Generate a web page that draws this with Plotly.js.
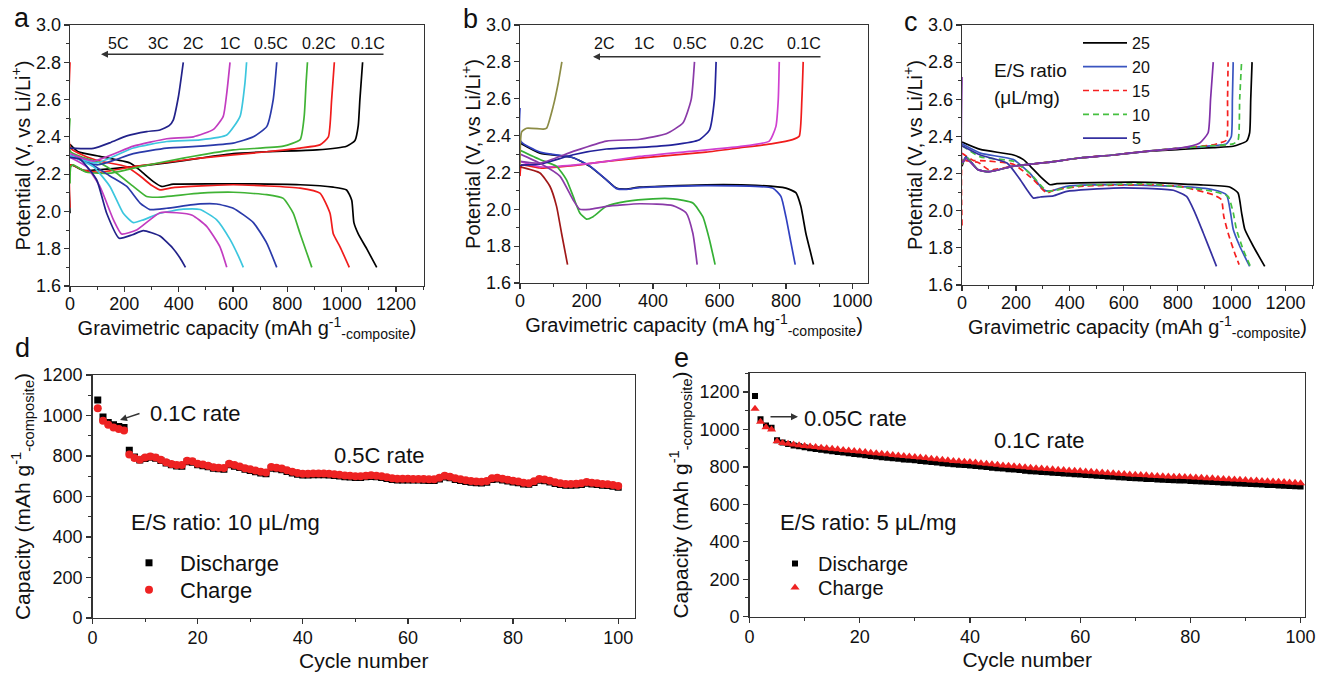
<!DOCTYPE html>
<html>
<head>
<meta charset="utf-8">
<script src="https://cdn.plot.ly/plotly-3.0.1.min.js"></script>
<style>html,body{margin:0;padding:0;background:#fff;}#chart{width:1317px;height:674px;}</style>
</head>
<body>
<div id="chart"></div>
<script>
// ---------------- Panel a : rate capability (mAh g-1 composite) ----------------
const aRateLabels = ['5C', '3C', '2C', '1C', '0.5C', '0.2C', '0.1C'];
// discharge curves
const a01D_x = [0, 30, 110, 221, 258, 307, 337, 380, 601, 847, 969, 1018, 1037, 1045, 1061, 1092, 1129];
const a01D_y = [2.36, 2.32, 2.295, 2.26, 2.22, 2.16, 2.134, 2.146, 2.148, 2.143, 2.13, 2.115, 2.06, 1.94, 1.88, 1.80, 1.70];
const a02D_x = [0, 2, 50, 110, 209, 258, 300, 331, 380, 601, 847, 920, 957, 969, 994, 1028];
const a02D_y = [2.80, 2.34, 2.30, 2.27, 2.24, 2.19, 2.14, 2.116, 2.128, 2.143, 2.125, 2.098, 1.99, 1.88, 1.81, 1.70];
const a05D_x = [0, 2, 110, 172, 233, 282, 319, 479, 601, 724, 785, 822, 847, 871, 890];
const a05D_y = [2.50, 2.32, 2.26, 2.205, 2.134, 2.08, 2.076, 2.098, 2.103, 2.09, 2.07, 1.99, 1.88, 1.78, 1.70];
const a1D_x = [0, 49, 147, 209, 258, 294, 356, 479, 540, 601, 675, 724, 761];
const a1D_y = [2.30, 2.28, 2.19, 2.134, 2.045, 2.01, 2.017, 2.04, 2.04, 2.017, 1.94, 1.83, 1.70];
const a2D_x = [0, 86, 147, 196, 233, 270, 331, 417, 479, 540, 589, 620, 638];
const a2D_y = [2.30, 2.24, 2.134, 1.99, 1.94, 1.955, 1.99, 2.012, 2.01, 1.955, 1.85, 1.76, 1.70];
const a3D_x = [0, 61, 110, 160, 190, 245, 331, 393, 450, 503, 552, 577];
const a3D_y = [2.29, 2.24, 2.134, 1.955, 1.879, 1.90, 1.993, 1.993, 1.98, 1.92, 1.81, 1.70];
const a5D_x = [0, 37, 98, 135, 181, 230, 270, 331, 380, 405, 425];
const a5D_y = [2.29, 2.28, 2.17, 1.99, 1.856, 1.875, 1.897, 1.868, 1.80, 1.75, 1.70];
// charge curves
const a01C_x = [0, 2, 49, 233, 356, 479, 601, 724, 908, 1018, 1049, 1061, 1067, 1077];
const a01C_y = [1.99, 2.25, 2.22, 2.24, 2.26, 2.286, 2.31, 2.32, 2.33, 2.35, 2.38, 2.46, 2.60, 2.80];
const a02C_x = [0, 3, 49, 110, 233, 479, 724, 847, 920, 951, 963, 973];
const a02C_y = [2.02, 2.25, 2.22, 2.21, 2.24, 2.286, 2.32, 2.34, 2.357, 2.40, 2.60, 2.80];
const a05C_x = [0, 3, 12, 61, 147, 258, 417, 601, 785, 847, 862, 869, 874];
const a05C_y = [2.15, 2.24, 2.25, 2.21, 2.205, 2.24, 2.286, 2.33, 2.35, 2.385, 2.51, 2.69, 2.80];
const a1C_x = [0, 100, 233, 356, 479, 601, 675, 724, 748, 761];
const a1C_y = [2.30, 2.25, 2.31, 2.34, 2.35, 2.366, 2.40, 2.455, 2.60, 2.80];
const a2C_x = [0, 98, 233, 356, 479, 577, 626, 644, 650];
const a2C_y = [2.30, 2.26, 2.34, 2.375, 2.384, 2.41, 2.51, 2.69, 2.80];
const a3C_x = [0, 86, 233, 356, 454, 528, 564, 577, 589];
const a3C_y = [2.31, 2.27, 2.35, 2.39, 2.40, 2.44, 2.51, 2.635, 2.80];
const a5C_x = [0, 86, 150, 209, 282, 331, 365, 380, 399, 417];
const a5C_y = [2.34, 2.338, 2.37, 2.405, 2.428, 2.437, 2.46, 2.49, 2.615, 2.80];

// ---------------- Panel b ----------------
const bRateLabels = ['2C', '1C', '0.5C', '0.2C', '0.1C'];
const b01D_x = [0, 60, 160, 210, 260, 290, 320, 360, 560, 710, 800, 830, 845, 860, 875, 883];
const b01D_y = [2.36, 2.305, 2.28, 2.233, 2.16, 2.115, 2.11, 2.12, 2.133, 2.13, 2.115, 2.09, 2.016, 1.87, 1.76, 1.70];
const b02D_x = [0, 2, 60, 160, 210, 260, 290, 320, 360, 560, 760, 785, 800, 815, 828];
const b02D_y = [2.55, 2.37, 2.31, 2.28, 2.235, 2.16, 2.112, 2.108, 2.118, 2.128, 2.115, 2.07, 1.96, 1.82, 1.70];
const b05D_x = [0, 60, 110, 140, 160, 180, 200, 220, 260, 320, 400, 460, 520, 550, 570, 587];
const b05D_y = [2.32, 2.27, 2.233, 2.16, 2.07, 1.98, 1.947, 1.96, 2.016, 2.043, 2.057, 2.057, 2.034, 1.96, 1.835, 1.70];
const b1D_x = [0, 60, 120, 160, 180, 210, 260, 360, 460, 500, 520, 533];
const b1D_y = [2.30, 2.25, 2.18, 2.05, 2.0, 2.0, 2.016, 2.03, 2.02, 1.98, 1.87, 1.70];
const b2D_x = [0, 60, 90, 110, 125, 143];
const b2D_y = [2.23, 2.197, 2.125, 2.016, 1.87, 1.70];
const b01C_x = [0, 5, 60, 160, 260, 360, 560, 660, 760, 820, 840, 848, 852];
const b01C_y = [2.18, 2.24, 2.224, 2.237, 2.26, 2.278, 2.31, 2.333, 2.356, 2.378, 2.396, 2.595, 2.80];
const b02C_x = [0, 60, 160, 260, 360, 510, 660, 750, 770, 777, 780];
const b02C_y = [2.26, 2.23, 2.24, 2.26, 2.287, 2.314, 2.34, 2.37, 2.45, 2.595, 2.80];
const b05C_x = [0, 60, 160, 260, 360, 460, 540, 570, 585, 590];
const b05C_y = [2.24, 2.245, 2.296, 2.327, 2.336, 2.35, 2.378, 2.43, 2.595, 2.80];
const b1C_x = [0, 60, 160, 260, 360, 440, 490, 515, 525];
const b1C_y = [2.26, 2.25, 2.314, 2.37, 2.38, 2.41, 2.468, 2.595, 2.80];
const b2C_x = [0, 5, 20, 70, 80, 100, 115, 126];
const b2C_y = [2.24, 2.42, 2.44, 2.435, 2.44, 2.56, 2.685, 2.80];

// ---------------- Panel c : E/S ratio ----------------
const cRatios = ['25', '20', '15', '10', '5'];
const c25D_x = [0, 68, 191, 228, 253, 290, 327, 352, 438, 685, 870, 993, 1024, 1037, 1049, 1080, 1123];
const c25D_y = [2.37, 2.33, 2.30, 2.275, 2.24, 2.185, 2.14, 2.146, 2.15, 2.153, 2.14, 2.128, 2.095, 1.99, 1.90, 1.81, 1.70];
const c20D_x = [0, 68, 191, 253, 302, 327, 389, 561, 808, 932, 981, 996, 1006, 1030, 1067];
const c20D_y = [2.36, 2.31, 2.275, 2.20, 2.113, 2.105, 2.131, 2.14, 2.131, 2.113, 2.086, 1.99, 1.90, 1.81, 1.70];
const c15D_x = [0, 43, 68, 191, 265, 315, 339, 438, 685, 808, 932, 962, 971, 987, 1012, 1028];
const c15D_y = [2.31, 2.27, 2.27, 2.25, 2.167, 2.095, 2.11, 2.131, 2.14, 2.131, 2.086, 2.06, 1.97, 1.88, 1.77, 1.71];
const c10D_x = [0, 68, 191, 253, 315, 339, 438, 685, 808, 932, 987, 1006, 1018, 1043, 1070];
const c10D_y = [2.35, 2.29, 2.266, 2.20, 2.105, 2.108, 2.135, 2.144, 2.128, 2.104, 2.077, 1.99, 1.90, 1.79, 1.70];
const c5D_x = [0, 68, 167, 216, 241, 265, 290, 339, 389, 561, 685, 784, 833, 864, 895, 925, 944];
const c5D_y = [2.35, 2.30, 2.257, 2.167, 2.113, 2.068, 2.074, 2.08, 2.104, 2.122, 2.12, 2.11, 2.077, 1.99, 1.88, 1.77, 1.70];
const c25C_x = [0, 15, 60, 100, 191, 315, 438, 561, 685, 808, 932, 1006, 1055, 1067, 1071, 1076];
const c25C_y = [2.24, 2.29, 2.22, 2.21, 2.24, 2.26, 2.284, 2.30, 2.32, 2.33, 2.34, 2.347, 2.374, 2.42, 2.60, 2.80];
const c20C_x = [0, 15, 60, 100, 191, 315, 438, 561, 685, 808, 932, 981, 999, 1003, 1006];
const c20C_y = [2.25, 2.29, 2.22, 2.21, 2.24, 2.26, 2.284, 2.30, 2.32, 2.337, 2.35, 2.36, 2.40, 2.60, 2.80];
const c15C_x = [0, 2, 15, 60, 100, 191, 315, 438, 561, 685, 808, 932, 956, 981, 985, 987];
const c15C_y = [1.92, 2.28, 2.27, 2.26, 2.22, 2.24, 2.26, 2.284, 2.30, 2.32, 2.337, 2.355, 2.365, 2.38, 2.60, 2.80];
const c10C_x = [0, 15, 60, 100, 191, 315, 438, 561, 685, 808, 932, 1006, 1024, 1030, 1037];
const c10C_y = [2.25, 2.29, 2.22, 2.21, 2.24, 2.26, 2.284, 2.30, 2.32, 2.337, 2.35, 2.36, 2.38, 2.60, 2.80];
const c5C_x = [0, 2, 15, 60, 100, 191, 315, 438, 561, 685, 808, 882, 913, 922, 932];
const c5C_y = [2.72, 2.26, 2.28, 2.22, 2.21, 2.24, 2.26, 2.284, 2.30, 2.32, 2.337, 2.365, 2.42, 2.60, 2.80];

// ---------------- Panels d and e : cycling ----------------
const cycles = [1,2,3,4,5,6,7,8,9,10,11,12,13,14,15,16,17,18,19,20,21,22,23,24,25,26,27,28,29,30,31,32,33,34,35,36,37,38,39,40,41,42,43,44,45,46,47,48,49,50,51,52,53,54,55,56,57,58,59,60,61,62,63,64,65,66,67,68,69,70,71,72,73,74,75,76,77,78,79,80,81,82,83,84,85,86,87,88,89,90,91,92,93,94,95,96,97,98,99,100];
const dDischarge = [1077,992,966,954,946,941,828,795,780,788,794,789,778,765,757,751,750,772,769,757,752,747,740,737,735,757,750,743,735,729,722,716,712,740,737,732,724,716,710,706,706,707,708,708,706,704,701,698,696,694,694,697,699,697,694,689,684,682,682,682,681,681,680,679,679,686,696,692,684,679,674,670,668,667,670,684,686,682,677,672,668,662,660,669,680,678,672,664,659,656,656,657,659,666,662,659,656,654,651,646];
const dCharge = [1036,974,954,941,933,926,807,790,782,793,798,793,782,769,761,756,755,777,774,762,758,752,745,742,741,762,755,748,740,735,728,722,718,746,742,738,730,722,716,712,712,713,714,714,712,710,707,704,702,700,700,703,705,703,700,695,690,688,688,688,687,687,686,685,685,692,702,698,690,685,680,676,674,673,676,690,692,688,683,678,674,668,666,675,686,684,678,670,665,662,662,663,665,672,668,665,662,660,657,652];
const eDischarge = [1179,1054,1021,1009,943,930,922,915,910,905,900,896,892,888,884,880,877,873,869,866,862,858,855,852,849,846,843,840,838,835,832,829,826,823,820,817,814,812,810,808,805,802,799,796,793,791,788,786,783,780,777,775,773,771,769,767,765,763,761,760,757,755,753,751,749,747,745,743,741,740,738,736,735,733,731,730,729,728,727,725,724,722,721,719,718,716,715,713,712,710,709,707,706,704,703,701,700,698,697,695];
const eCharge = [1111,1041,1012,1000,937,928,924,920,916,912,909,906,903,900,897,894,891,888,885,882,879,876,873,870,867,864,861,858,856,853,850,847,844,841,838,835,832,830,828,826,823,820,817,814,811,808,806,804,801,798,795,793,791,789,787,785,783,781,779,778,776,774,772,770,768,766,764,762,760,758,757,755,753,752,750,749,748,747,746,745,743,742,740,739,737,736,734,733,731,730,728,727,725,724,722,721,719,717,715,713];

// ---------------- styles ----------------
const F = 'Liberation Sans, Arial, sans-serif';
const W = 1317, H = 674;
const px = v => v / W;
const py = v => 1 - v / H;

function ln(x, y, color, xa, ya, opts) {
  opts = opts || {};
  return {
    type: 'scatter', mode: 'lines', x: x, y: y, xaxis: xa, yaxis: ya,
    line: {color: color, width: 1.7, dash: opts.dash || 'solid', shape: 'spline', smoothing: 0.5},
    name: opts.name || '', showlegend: !!opts.legend, legend: 'legend', hoverinfo: 'skip'
  };
}

const traces = [
  // a
  ln(a01D_x, a01D_y, '#000000', 'x', 'y'), ln(a01C_x, a01C_y, '#000000', 'x', 'y'),
  ln(a02D_x, a02D_y, '#f01c1c', 'x', 'y'), ln(a02C_x, a02C_y, '#f01c1c', 'x', 'y'),
  ln(a05D_x, a05D_y, '#40b335', 'x', 'y'), ln(a05C_x, a05C_y, '#40b335', 'x', 'y'),
  ln(a1D_x, a1D_y, '#2a3aaa', 'x', 'y'), ln(a1C_x, a1C_y, '#2a3aaa', 'x', 'y'),
  ln(a2D_x, a2D_y, '#3cc6de', 'x', 'y'), ln(a2C_x, a2C_y, '#3cc6de', 'x', 'y'),
  ln(a3D_x, a3D_y, '#c23cc0', 'x', 'y'), ln(a3C_x, a3C_y, '#c23cc0', 'x', 'y'),
  ln(a5D_x, a5D_y, '#22228a', 'x', 'y'), ln(a5C_x, a5C_y, '#22228a', 'x', 'y'),
  // b
  ln(b01D_x, b01D_y, '#000000', 'x2', 'y2'), ln(b01C_x, b01C_y, '#f01c1c', 'x2', 'y2'),
  ln(b02D_x, b02D_y, '#3040c0', 'x2', 'y2'), ln(b02C_x, b02C_y, '#d040d0', 'x2', 'y2'),
  ln(b05D_x, b05D_y, '#35b035', 'x2', 'y2'), ln(b05C_x, b05C_y, '#22229a', 'x2', 'y2'),
  ln(b1D_x, b1D_y, '#8a3aa8', 'x2', 'y2'), ln(b1C_x, b1C_y, '#8a3aa8', 'x2', 'y2'),
  ln(b2D_x, b2D_y, '#a01818', 'x2', 'y2'), ln(b2C_x, b2C_y, '#8c8c45', 'x2', 'y2'),
  // c (legend entries)
  ln(c25D_x, c25D_y, '#000000', 'x3', 'y3', {name: cRatios[0], legend: true}),
  ln(c20D_x, c20D_y, '#3a55c0', 'x3', 'y3', {name: cRatios[1], legend: true}),
  ln(c15D_x, c15D_y, '#f52020', 'x3', 'y3', {name: cRatios[2], legend: true, dash: '6px,4px'}),
  ln(c10D_x, c10D_y, '#45c040', 'x3', 'y3', {name: cRatios[3], legend: true, dash: '6px,4px'}),
  ln(c5D_x, c5D_y, '#3530a0', 'x3', 'y3', {name: cRatios[4], legend: true}),
  ln(c25C_x, c25C_y, '#000000', 'x3', 'y3'),
  ln(c20C_x, c20C_y, '#3a55c0', 'x3', 'y3'),
  ln(c15C_x, c15C_y, '#f52020', 'x3', 'y3', {dash: '6px,4px'}),
  ln(c10C_x, c10C_y, '#45c040', 'x3', 'y3', {dash: '6px,4px'}),
  ln(c5C_x, c5C_y, '#8030a8', 'x3', 'y3'),
  // d
  {type: 'scatter', mode: 'markers', x: cycles, y: dDischarge, xaxis: 'x4', yaxis: 'y4', name: 'Discharge',
   marker: {symbol: 'square', size: 7, color: '#000000'}, legend: 'legend2', hoverinfo: 'skip'},
  {type: 'scatter', mode: 'markers', x: cycles, y: dCharge, xaxis: 'x4', yaxis: 'y4', name: 'Charge',
   marker: {symbol: 'circle', size: 8, color: '#ee2222'}, legend: 'legend4', hoverinfo: 'skip'},
  // e
  {type: 'scatter', mode: 'markers', x: cycles, y: eDischarge, xaxis: 'x5', yaxis: 'y5', name: 'Discharge',
   marker: {symbol: 'square', size: 6, color: '#000000'}, legend: 'legend3', hoverinfo: 'skip'},
  {type: 'scatter', mode: 'markers', x: cycles, y: eCharge, xaxis: 'x5', yaxis: 'y5', name: 'Charge',
   marker: {symbol: 'triangle-up', size: 8, color: '#ee2222'}, legend: 'legend5', hoverinfo: 'skip'}
];

function axis(domain, range, dtick, minor, anchor, title, o) {
  o = o || {};
  return {
    domain: domain, range: range, anchor: anchor, dtick: dtick, tick0: 0,
    showline: true, mirror: true, linecolor: '#333', linewidth: 1.3,
    ticks: 'outside', ticklen: 5, tickwidth: 1.2, tickcolor: '#333',
    minor: {dtick: minor, ticks: 'outside', ticklen: 3, tickwidth: 1, tickcolor: '#333', showgrid: false},
    showgrid: false, zeroline: false, fixedrange: true,
    tickformat: o.fmt || '', ticklabelstandoff: (o.tls !== undefined ? o.tls : 0),
    tickfont: {family: F, size: o.tick || 18, color: '#111'},
    title: {text: title, font: {family: F, size: o.tsize || 20, color: '#111'}, standoff: (o.standoff !== undefined ? o.standoff : 6)}
  };
}

const gravA = 'Gravimetric capacity (mAh g<sup>-1</sup><sub>-composite</sub>)';
const gravB = 'Gravimetric capacity (mA hg<sup>-1</sup><sub>-composite</sub>)';
const potT = 'Potential (V, vs Li/Li<sup>+</sup>)';
const capT = 'Capacity (mAh g<sup>-1</sup><sub>-composite</sub>)';

function leg(x, y, size, iw) {
  return {x: px(x), y: py(y), xanchor: 'left', yanchor: 'top', bgcolor: 'rgba(0,0,0,0)',
          font: {family: F, size: size, color: '#111'}, itemwidth: iw, tracegroupgap: 0, borderwidth: 0};
}

const layout = {
  width: W, height: H, margin: {l: 0, r: 0, t: 0, b: 0},
  paper_bgcolor: '#fff', plot_bgcolor: '#fff', font: {family: F, color: '#111'},
  xaxis: axis([px(70), px(424)], [0, 1303], 200, 100, 'y', gravA, {standoff: 3, tls: -4}),
  yaxis: axis([py(286), py(25)], [1.6, 3.0], 0.2, 0.1, 'x', potT, {fmt: '.1f', standoff: 0, tls: -1}),
  xaxis2: axis([px(520), px(868)], [0, 1047], 200, 100, 'y2', gravB, {standoff: 3, tls: -4}),
  yaxis2: axis([py(283), py(25)], [1.6, 3.0], 0.2, 0.1, 'x2', potT, {fmt: '.1f', standoff: 0, tls: -1}),
  xaxis3: axis([px(962), px(1313)], [0, 1302], 200, 100, 'y3', gravA, {standoff: 2, tls: -4}),
  yaxis3: axis([py(285), py(25)], [1.6, 3.0], 0.2, 0.1, 'x3', potT, {fmt: '.1f', standoff: 0, tls: -1}),
  xaxis4: axis([px(92.5), px(635)], [0, 103.2], 20, 10, 'y4', 'Cycle number', {tsize: 21, standoff: 6, tls: -2}),
  yaxis4: axis([py(618), py(375)], [0, 1200], 200, 100, 'x4', capT, {tsize: 21, standoff: 6}),
  xaxis5: axis([px(749.5), px(1305)], [0, 100.8], 20, 10, 'y5', 'Cycle number', {tsize: 21, standoff: 6, tls: -2}),
  yaxis5: axis([py(616.7), py(373.3)], [0, 1300], 200, 100, 'x5', capT, {tsize: 21, standoff: 5}),
  showlegend: true,
  legend: leg(1078, 26, 16, 44),
  legend2: leg(118, 542, 22, 52),
  legend4: leg(118, 569, 22, 52),
  legend3: leg(772, 544, 20, 36),
  legend5: leg(772, 568, 20, 36),
  annotations: [],
  shapes: []
};

function txt(text, x, y, size, anchor) {
  layout.annotations.push({text: text, x: px(x), y: py(y), xref: 'paper', yref: 'paper',
    xanchor: anchor || 'center', yanchor: 'middle', showarrow: false,
    font: {family: F, size: size, color: '#111'}});
}
function arrow(hx, hy, tx, ty) {
  layout.annotations.push({text: '', x: px(hx), y: py(hy), xref: 'paper', yref: 'paper',
    ax: tx - hx, ay: ty - hy, showarrow: true, arrowhead: 2, arrowsize: 1, arrowwidth: 1.4, arrowcolor: '#333'});
}

// panel letters
txt('a', 22, 18, 27); txt('b', 471, 19, 27); txt('c', 911, 22, 27);
txt('d', 22, 348, 27); txt('e', 681, 358, 27);
// panel a rate labels
const aLabelX = [118, 158, 193, 230, 271, 319, 368];
aRateLabels.forEach((t, i) => txt(t, aLabelX[i], 43, 16));
arrow(101, 54.3, 385, 54.3);
// panel b rate labels
const bLabelX = [604, 644, 690, 747, 804];
bRateLabels.forEach((t, i) => txt(t, bLabelX[i], 43.3, 16));
arrow(593, 56.7, 822, 56.7);
// panel c
txt('E/S ratio', 1030, 70, 19); txt('(\u03bcL/mg)', 1027, 97, 19);
// panel d
txt('0.1C rate', 195, 413, 22); arrow(120, 420, 141, 413);
txt('0.5C rate', 379, 455, 22);
txt('E/S ratio: 10 \u03bcL/mg', 129, 522, 22, 'left');
// panel e
txt('0.05C rate', 855, 418, 22); arrow(798, 416.7, 769, 416.7);
txt('0.1C rate', 1039, 440, 22);
txt('E/S ratio: 5 \u03bcL/mg', 778, 522, 22, 'left');

Plotly.newPlot('chart', traces, layout, {staticPlot: true, displayModeBar: false});
</script>
</body>
</html>
